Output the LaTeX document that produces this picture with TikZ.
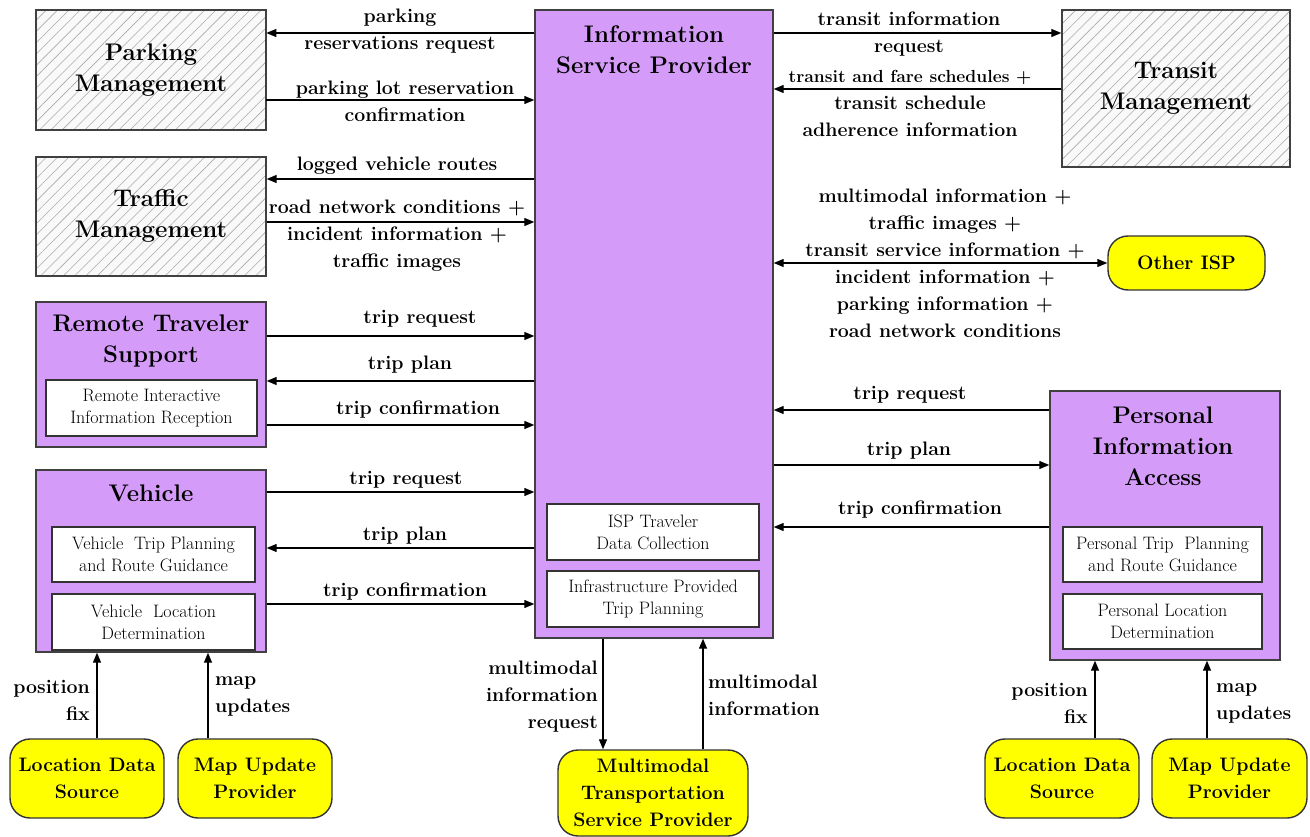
\documentclass[tikz,border=0pt]{standalone}
\usetikzlibrary{arrows.meta,patterns.meta}
\definecolor{purp}{RGB}{213,155,248}
\definecolor{yel}{RGB}{255,255,0}
\definecolor{hatchc}{RGB}{170,170,170}
\newcommand\ttlfont{\fontsize{24}{31}\selectfont\bfseries}
\newcommand\labfont{\fontsize{19.5}{27}\selectfont\bfseries}
\newcommand\subfont{\fontsize{18}{22}\selectfont}
\begin{document}
\begin{tikzpicture}[x=1pt,y=-1pt,
  hatchbox/.style={draw=black!75, line width=1.4pt, preaction={fill=gray!5},
    pattern={Lines[angle=45,distance=8pt,line width=0.6pt]}, pattern color=hatchc,
    font=\ttlfont, align=center, inner sep=0},
  purpbox/.style={draw=black!75, line width=1.4pt, fill=purp, inner sep=0},
  subbox/.style={draw=black!80, line width=1.2pt, fill=white, font=\subfont, align=center, inner sep=0},
  ybox/.style={draw=black!80, line width=1.4pt, fill=yel, rounded corners=20pt, font=\labfont, align=center, inner sep=0},
  ttl/.style={font=\ttlfont, align=center, inner sep=0},
  lab/.style={font=\labfont, align=center, inner sep=0},
  arr/.style={line width=1.3pt, -{Triangle[length=10pt,width=8pt]}},
  biarr/.style={line width=1.3pt, {Triangle[length=10pt,width=8pt]}-{Triangle[length=10pt,width=8pt]}}
]
\useasboundingbox (0,0) rectangle (1310,837);

% ---- boxes ----
\node[hatchbox, minimum width=230pt, minimum height=120pt] (park) at (151,70) {Parking\\Management};
\node[hatchbox, minimum width=230pt, minimum height=119pt] (traf) at (151,216.5) {Traffic\\Management};
\node[hatchbox, minimum width=228pt, minimum height=157pt] (trans) at (1176,88.5) {Transit\\Management};

\node[purpbox, minimum width=230pt, minimum height=145pt] (rts) at (151,374.5) {};
\node[ttl] (rtsT) at (151,341) {Remote Traveler\\Support};
\node[subbox, minimum width=211pt, minimum height=56pt] (rtsA) at (151.5,408) {Remote Interactive\\Information Reception};

\node[purpbox, minimum width=230pt, minimum height=182pt] (veh) at (151,561) {};
\node[ttl] (vehT) at (151,493) {Vehicle};
\node[subbox, minimum width=203pt, minimum height=55pt] (vehA) at (153.5,554.5) {Vehicle\ \ Trip Planning\\and Route Guidance};
\node[subbox, minimum width=203pt, minimum height=56pt] (vehB) at (153.5,622) {Vehicle\ \ Location\\Determination};

\node[purpbox, minimum width=238pt, minimum height=628pt] (isp) at (654,324) {};
\node[ttl] (ispT) at (654,49.5) {Information\\Service Provider};
\node[subbox, minimum width=212pt, minimum height=56pt] (ispA) at (653,532) {ISP Traveler\\Data Collection};
\node[subbox, minimum width=212pt, minimum height=56pt] (ispB) at (653,599) {Infrastructure Provided\\Trip Planning};

\node[purpbox, minimum width=230pt, minimum height=269pt] (pia) at (1165,525.5) {};
\node[ttl] (piaT) at (1163,446.5) {Personal\\Information\\Access};
\node[subbox, minimum width=199pt, minimum height=55pt] (piaA) at (1162.5,554.5) {Personal Trip\ \ Planning\\and Route Guidance};
\node[subbox, minimum width=199pt, minimum height=55pt] (piaB) at (1162.5,621.5) {Personal Location\\Determination};

\node[ybox, minimum width=157pt, minimum height=54pt] (oisp) at (1186.5,263) {Other ISP};
\node[ybox, minimum width=154pt, minimum height=79pt] (lds1) at (87,778.5) {Location Data\\Source};
\node[ybox, minimum width=154pt, minimum height=79pt] (mup1) at (255,778.5) {Map Update\\Provider};
\node[ybox, minimum width=190pt, minimum height=86pt] (mtsp) at (653,793) {Multimodal\\Transportation\\Service Provider};
\node[ybox, minimum width=154pt, minimum height=79pt] (lds2) at (1062,778.5) {Location Data\\Source};
\node[ybox, minimum width=155pt, minimum height=79pt] (mup2) at (1229.5,778.5) {Map Update\\Provider};

% ---- left connectors ----
\draw[arr] (isp.west |- 0,33) -- (park.east |- 0,33);
\node[lab] (l1) at (400,31) {parking\\reservations request};
\draw[arr] (park.east |- 0,100) -- (isp.west |- 0,100);
\node[lab] (l2) at (405,101.5) {parking lot reservation\\confirmation};
\draw[arr] (isp.west |- 0,179) -- (traf.east |- 0,179);
\node[lab] (l3) at (397,166) {logged vehicle routes};
\draw[arr] (traf.east |- 0,222) -- (isp.west |- 0,222);
\node[lab] (l4) at (397,235.5) {road network conditions +\\incident information +\\traffic images};

\draw[arr] (rts.east |- 0,336) -- (isp.west |- 0,336);
\node[lab] (l5) at (420,319) {trip request};
\draw[arr] (isp.west |- 0,381) -- (rts.east |- 0,381);
\node[lab] (l6) at (410,365) {trip plan};
\draw[arr] (rts.east |- 0,425) -- (isp.west |- 0,425);
\node[lab] (l7) at (418,410) {trip confirmation};

\draw[arr] (veh.east |- 0,492) -- (isp.west |- 0,492);
\node[lab] (l8) at (406,480) {trip request};
\draw[arr] (isp.west |- 0,548) -- (veh.east |- 0,548);
\node[lab] (l9) at (405,536) {trip plan};
\draw[arr] (veh.east |- 0,604) -- (isp.west |- 0,604);
\node[lab] (l10) at (405,592) {trip confirmation};

% ---- right connectors ----
\draw[arr] (isp.east |- 0,33) -- (trans.west |- 0,33);
\node[lab] (r1) at (909,34) {transit information\\request};
\draw[arr] (trans.west |- 0,89) -- (isp.east |- 0,89);
\node[lab] (r2) at (910,103) {{\fontsize{17.5}{27}\selectfont transit and fare schedules +}\\transit schedule\\adherence information};
\draw[biarr] (isp.east |- 0,263) -- (oisp.west);
\node[lab] (r3) at (945,263.5) {multimodal information +\\traffic images +\\transit service information +\\incident information +\\parking information +\\road network conditions};

\draw[arr] (pia.west |- 0,410) -- (isp.east |- 0,410);
\node[lab] (r4) at (910,395) {trip request};
\draw[arr] (isp.east |- 0,465) -- (pia.west |- 0,465);
\node[lab] (r5) at (909,451) {trip plan};
\draw[arr] (pia.west |- 0,527) -- (isp.east |- 0,527);
\node[lab] (r6) at (920,510) {trip confirmation};

% ---- bottom connectors ----
\draw[arr] (isp.south -| 603,0) -- (mtsp.north -| 603,0);
\node[lab, align=right, anchor=east] (b1) at (598,696.5) {multimodal\\information\\request};
\draw[arr] (mtsp.north -| 703,0) -- (isp.south -| 703,0);
\node[lab, align=left, anchor=west] (b2) at (708,695.5) {multimodal\\information};

\draw[arr] (lds1.north -| 97,0) -- (veh.south -| 97,0);
\node[lab, align=right, anchor=east] (b3) at (90,700) {position\\fix};
\draw[arr] (mup1.north -| 208,0) -- (veh.south -| 208,0);
\node[lab, align=left, anchor=west] (b4) at (215,696) {map\\updates};

\draw[arr] (lds2.north -| 1095,0) -- (pia.south -| 1095,0);
\node[lab, align=right, anchor=east] (b5) at (1088,703) {position\\fix};
\draw[arr] (mup2.north -| 1207,0) -- (pia.south -| 1207,0);
\node[lab, align=left, anchor=west] (b6) at (1216,703) {map\\updates};
\end{tikzpicture}
\end{document}
